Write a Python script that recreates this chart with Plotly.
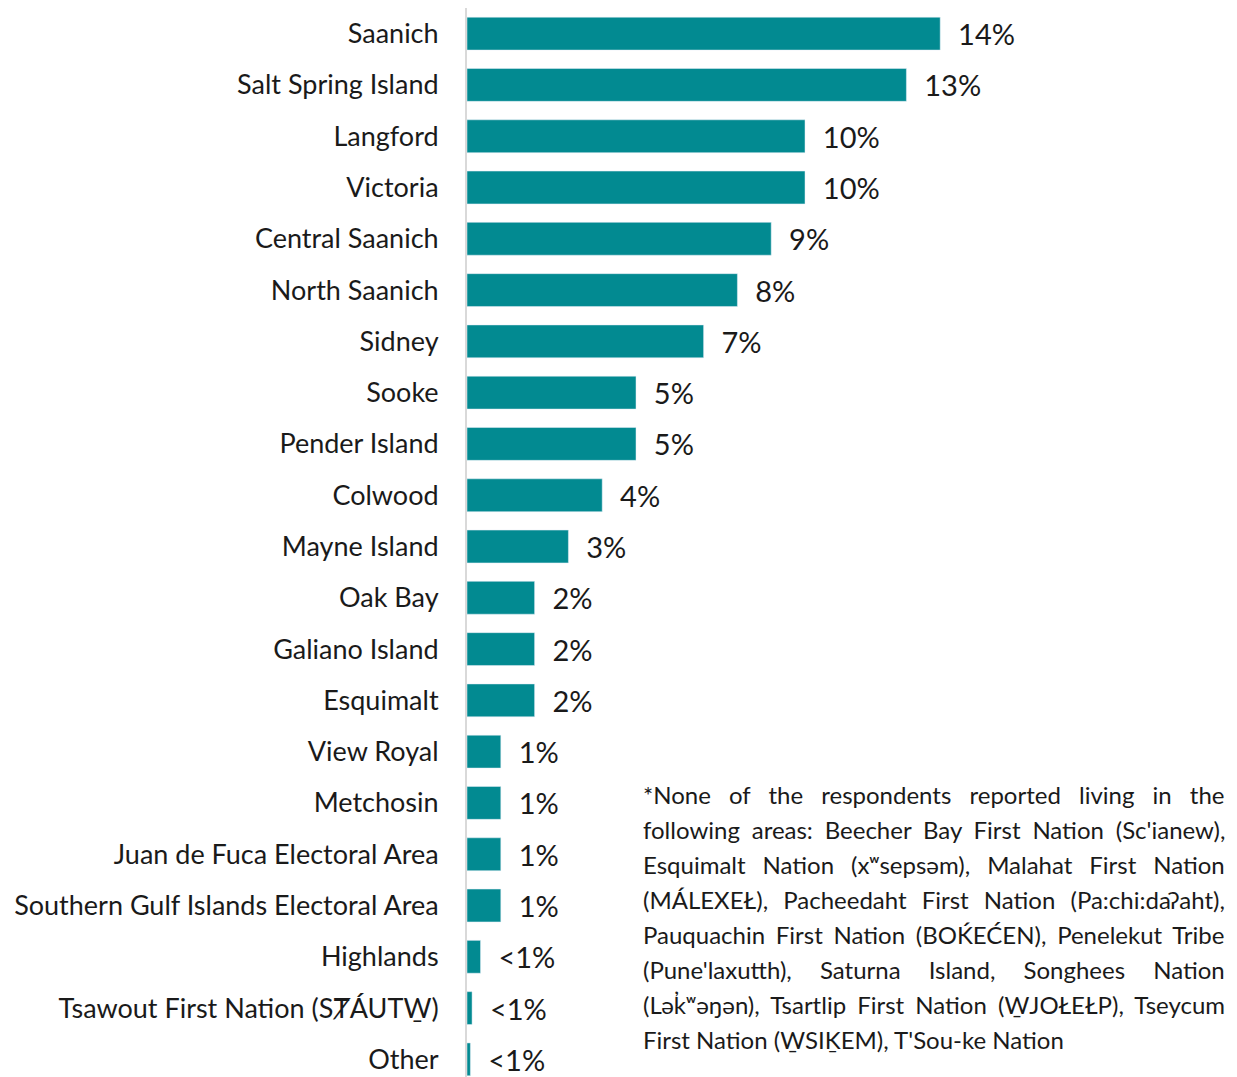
import plotly.graph_objects as go

# Areas where respondents live (top to bottom)
areas = [
    "Saanich", "Salt Spring Island", "Langford", "Victoria", "Central Saanich",
    "North Saanich", "Sidney", "Sooke", "Pender Island", "Colwood",
    "Mayne Island", "Oak Bay", "Galiano Island", "Esquimalt", "View Royal",
    "Metchosin", "Juan de Fuca Electoral Area", "Southern Gulf Islands Electoral Area",
    "Highlands", "Tsawout First Nation (S\u023e\u00c1UTW\u0331)", "Other",
]
shares = [14, 13, 10, 10, 9, 8, 7, 5, 5, 4, 3, 2, 2, 2, 1, 1, 1, 1, 0.4, 0.15, 0.1]
share_labels = [
    "14%", "13%", "10%", "10%", "9%", "8%", "7%", "5%", "5%", "4%", "3%",
    "2%", "2%", "2%", "1%", "1%", "1%", "1%", "<1%", "<1%", "<1%",
]

# Footnote, one entry per printed line
note_lines = [
    "*None of the respondents reported living in the",
    "following areas: Beecher Bay First Nation (Sc'ianew),",
    "Esquimalt Nation (x\u02b7seps\u0259m), Malahat First Nation",
    "(M\u00c1LEXE\u0141), Pacheedaht First Nation (Pa:chi:da\u0294aht),",
    "Pauquachin First Nation (BO\u1e30E\u0106EN), Penelekut Tribe",
    "(Pune'laxutth), Saturna Island, Songhees Nation",
    "(L\u0259k\u0313\u02b7\u0259\u014b\u0259n), Tsartlip First Nation (W\u0331JO\u0141E\u0141P), Tseycum",
    "First Nation (W\u0331SI\u1e34EM), T'Sou-ke Nation",
]
# extra word spacing (px) to justify each footnote line
note_spacing = [12, 5.7, 10.8, 9, 4.6, 22, 5, 0]

bar_color = "#028A91"
font_name = "Lato"

fig = go.Figure(
    go.Bar(
        x=shares,
        y=areas,
        orientation="h",
        marker_color=bar_color,
        text=share_labels,
        texttemplate="\u00a0\u00a0%{text}",
        textposition="outside",
        constraintext="none",
        cliponaxis=False,
        textfont=dict(family=font_name, size=29, color="#1a1a1a"),
        hoverinfo="skip",
    )
)

# page body adds an 8px offset, so the margins are set 8px smaller
fig.update_layout(
    width=1237,
    height=1077,
    margin=dict(l=459, r=102, t=0, b=0, autoexpand=False),
    plot_bgcolor="white",
    paper_bgcolor="white",
    bargap=0.36,
    showlegend=False,
    font=dict(family=font_name, color="#1a1a1a"),
)
fig.update_xaxes(range=[0, 20], visible=False, fixedrange=True, automargin=False)
fig.update_yaxes(
    autorange="reversed",
    automargin=False,
    showline=True,
    linecolor="#d9d9d9",
    linewidth=2,
    showgrid=False,
    ticks="",
    ticklabelstandoff=21,
    tickfont=dict(family=font_name, size=27, color="#1a1a1a"),
)

# footnote block, bottom right
note_top = 786
line_step = 35.1
plot_h = 1077
for i, line in enumerate(note_lines):
    ypx = note_top + i * line_step
    fig.add_annotation(
        text=f'<span style="word-spacing:{note_spacing[i]}px">{line}</span>',
        xref="paper",
        yref="paper",
        x=(633 - 459) / 676,
        y=1 - ypx / plot_h,
        xanchor="left",
        yanchor="middle",
        showarrow=False,
        font=dict(family=font_name, size=24, color="#1a1a1a"),
    )

fig.write_html("out.html")
